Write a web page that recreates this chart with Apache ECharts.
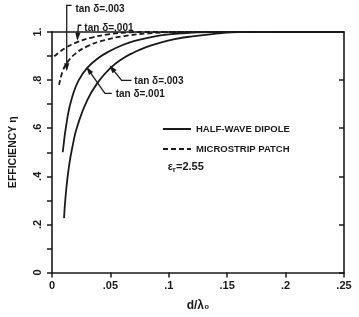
<!DOCTYPE html>
<html><head><meta charset="utf-8">
<script src="https://cdn.jsdelivr.net/npm/echarts@6/dist/echarts.min.js"></script>
<style>html,body{margin:0;padding:0;background:#fff}#c{width:359px;height:317px}</style>
</head><body><div id="c"></div>
<script>
// ---- data ----
const xTickLabels = {'0':'0','0.05':'.05','0.1':'.1','0.15':'.15','0.2':'.2','0.25':'.25'};
const yTickLabels = {'0':'0','0.2':'.2','0.4':'.4','0.6':'.6','0.8':'.8','1':'1.'};

const dipole003X = [0.0103,0.0117,0.0145,0.018,0.0215,0.03,0.04,0.05,0.06,0.07,0.08,0.09,0.105,0.12,0.14,0.16,0.25];
const dipole003Y = [0.226,0.32,0.44,0.535,0.605,0.715,0.795,0.85,0.888,0.915,0.936,0.952,0.97,0.982,0.993,1.0,1.0];

const dipole001X = [0.0092,0.0134,0.0176,0.0229,0.03,0.04,0.05,0.06,0.07,0.085,0.1,0.12,0.14,0.25];
const dipole001Y = [0.50,0.65,0.735,0.80,0.85,0.893,0.922,0.945,0.962,0.979,0.99,0.997,1.0,1.0];

const patch003X = [0.0061,0.009,0.0132,0.0201,0.03,0.045,0.062,0.085,0.11,0.25];
const patch003Y = [0.78,0.835,0.874,0.91,0.94,0.966,0.983,0.995,1.0,1.0];

const patch001X = [0.0019,0.0117,0.0216,0.0342,0.048,0.065,0.08,0.25];
const patch001Y = [0.899,0.934,0.958,0.977,0.99,0.998,1.0,1.0];

const legendNames = ['HALF-WAVE DIPOLE','MICROSTRIP PATCH'];
const epsText = '2.55';

// annotations: label text, text anchor [d, eta], leader path in data units
const annotations = [
  {text:'tan δ=.003', at:[0.0201,1.094], path:[[0.0168,1.111],[0.0126,1.111],[0.0126,0.845]]},
  {text:'tan δ=.001', at:[0.0277,1.015], path:[[0.0252,1.028],[0.0226,1.028],[0.0218,0.972]]},
  {text:'tan δ=.003', at:[0.0705,0.795], path:[[0.068,0.799],[0.0596,0.799],[0.0503,0.855]]},
  {text:'tan δ=.001', at:[0.0545,0.741], path:[[0.0512,0.745],[0.0453,0.745],[0.0305,0.848]]}
];

// ---- chart ----
const zip = (xs, ys) => xs.map((x, i) => [x, ys[i]]);
const ink = '#1a1a1a';
const FONT = '"Liberation Sans", Arial, sans-serif';
const chart = echarts.init(document.getElementById('c'), null, {renderer:'canvas'});

function lineSeries(name, xs, ys, dashed) {
  return {
    type:'line', name, data: zip(xs, ys), showSymbol:false, symbol:'none',
    smooth:0.5, xAxisIndex:0, yAxisIndex:0,
    lineStyle:{color:ink, width:1.8, type: dashed ? [5,3] : 'solid'},
    itemStyle:{color:ink}, silent:true, animation:false, z:3
  };
}

const option = {
  backgroundColor:'#fff',
  animation:false,
  grid:{left:46, right:15, top:32, bottom:44.5, containLabel:false},
  legend:{
    data:legendNames, orient:'vertical', left:157, top:119,
    itemWidth:28, itemHeight:10, itemGap:10,
    itemStyle:{opacity:0, borderWidth:0},
    textStyle:{fontFamily:FONT, fontWeight:'bold', fontSize:9.5, color:ink},
    selectedMode:false
  },
  xAxis:[{
    type:'value', min:0, max:0.25, interval:0.05, position:'bottom',
    axisLine:{show:true, lineStyle:{color:ink, width:1.6}},
    axisTick:{show:true, inside:false, length:5, lineStyle:{color:ink, width:1.5}},
    axisLabel:{margin:8, fontFamily:FONT, fontWeight:'bold', fontSize:11, color:ink,
      formatter: v => xTickLabels[String(+v.toFixed(2))]},
    splitLine:{show:false},
    name:'d/λ₀', nameLocation:'middle', nameGap:27,
    nameTextStyle:{fontFamily:FONT, fontWeight:'bold', fontSize:12, color:ink}
  },{
    type:'value', min:0, max:0.25, interval:0.05, position:'top',
    axisLine:{show:true, onZero:false, lineStyle:{color:ink, width:1.6}},
    axisTick:{show:false}, axisLabel:{show:false}, splitLine:{show:false}
  }],
  yAxis:[{
    type:'value', min:0, max:1, interval:0.2, position:'left',
    axisLine:{show:true, lineStyle:{color:ink, width:1.6}},
    axisTick:{show:true, inside:false, length:5, lineStyle:{color:ink, width:1.5}},
    minorTick:{show:true, splitNumber:2, length:5, lineStyle:{color:ink, width:1.5}},
    axisLabel:{rotate:90, margin:9, fontFamily:FONT, fontWeight:'bold', fontSize:11, color:ink,
      formatter: v => yTickLabels[String(+v.toFixed(1))]},
    splitLine:{show:false},
    name:'EFFICIENCY η', nameLocation:'middle', nameGap:33,
    nameTextStyle:{fontFamily:FONT, fontWeight:'bold', fontSize:10.5, color:ink}
  },{
    type:'value', min:0, max:1, interval:0.2, position:'right',
    axisLine:{show:true, onZero:false, lineStyle:{color:ink, width:1.6}},
    axisTick:{show:true, inside:true, length:5, lineStyle:{color:ink, width:1.5}},
    axisLabel:{show:false}, splitLine:{show:false}
  }],
  series:[
    lineSeries(legendNames[0], dipole003X, dipole003Y, false),
    lineSeries(legendNames[0], dipole001X, dipole001Y, false),
    lineSeries(legendNames[1], patch003X, patch003Y, true),
    lineSeries(legendNames[1], patch001X, patch001Y, true)
  ]
};
chart.setOption(option);

// annotations and εr label, positioned through the chart's own scales
function px(p){ return chart.convertToPixel({xAxisIndex:0, yAxisIndex:0}, p); }
const g = [];
annotations.forEach(a => {
  const t = px(a.at);
  g.push({type:'text', x:t[0], y:t[1], silent:true, z:10,
    style:{text:a.text, fill:ink, font:'bold 10px ' + FONT, textVerticalAlign:'middle', textAlign:'left'}});
  const pts = a.path.map(px);
  g.push({type:'polyline', silent:true, z:10, shape:{points:pts},
    style:{stroke:ink, lineWidth:1.3, fill:null}});
  const p1 = pts[pts.length-2], p2 = pts[pts.length-1];
  const ang = Math.atan2(p2[1]-p1[1], p2[0]-p1[0]);
  const L = 6, W = 2.6;
  const bx = p2[0] - L*Math.cos(ang), by = p2[1] - L*Math.sin(ang);
  g.push({type:'polygon', silent:true, z:10, shape:{points:[
    [p2[0]+2*Math.cos(ang), p2[1]+2*Math.sin(ang)],
    [bx - W*Math.sin(ang), by + W*Math.cos(ang)],
    [bx + W*Math.sin(ang), by - W*Math.cos(ang)]]}, style:{fill:ink}});
});
const ep = px([0.099, 0.44]);
g.push({type:'text', x:ep[0], y:ep[1], silent:true, z:10,
  style:{text:'{e|ε}{s|r}{e|=' + epsText + '}', textVerticalAlign:'middle',
    rich:{e:{fontFamily:FONT, fontWeight:'bold', fontSize:11, fill:ink, verticalAlign:'middle'},
          s:{fontFamily:FONT, fontWeight:'bold', fontSize:8, fill:ink, padding:[6,0,0,0], verticalAlign:'bottom'}}}});
chart.setOption({graphic:g});
</script>
</body></html>
